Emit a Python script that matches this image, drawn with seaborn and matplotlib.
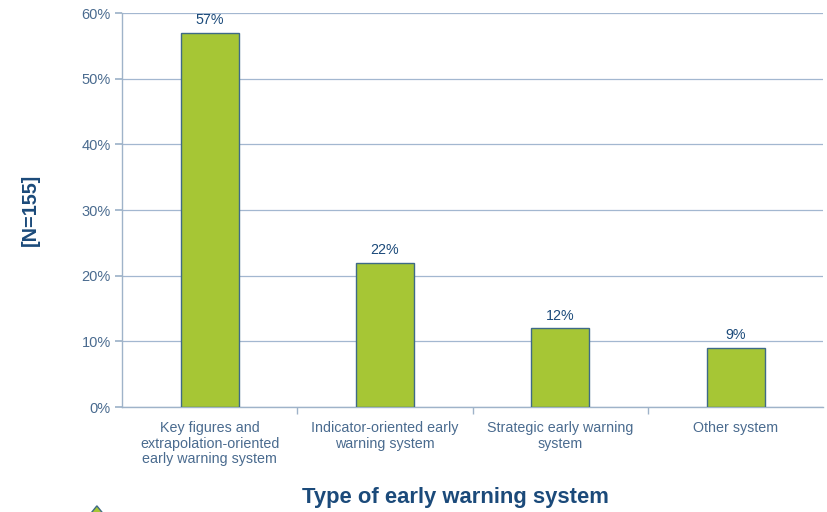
import matplotlib
matplotlib.use("Agg")
import matplotlib.pyplot as plt
import seaborn as sns
import pandas as pd
from matplotlib.patches import Polygon

categories = [
    "Key figures and\nextrapolation-oriented\nearly warning system",
    "Indicator-oriented early\nwarning system",
    "Strategic early warning\nsystem",
    "Other system",
]
shares = [57, 22, 12, 9]
y_ticks = [0, 10, 20, 30, 40, 50, 60]

df = pd.DataFrame({"system": categories, "share": shares})

sns.set_theme(style="white")
plt.rcParams["font.family"] = ["Liberation Sans", "DejaVu Sans"]

text_col = "#4A6B8F"
title_col = "#1B4A7A"
grid_col = "#A3B7D0"
spine_col = "#9FB3C9"

fig = plt.figure(figsize=(8.28, 5.12), dpi=100)
ax = fig.add_axes([0.1473, 0.205, 0.847, 0.7696])

sns.barplot(data=df, x="system", y="share", ax=ax, width=0.33,
            color="#A6C635", edgecolor="#3E6A87", linewidth=1.0,
            saturation=1, zorder=3)

ax.set_ylim(0, 60)
ax.set_xlim(-0.5, 3.5)
ax.set_yticks(y_ticks)
ax.set_yticklabels([f"{t}%" for t in y_ticks], color=text_col, fontsize=10.5)
ax.yaxis.grid(True, color=grid_col, linewidth=0.9, zorder=0)
ax.xaxis.grid(False)

for s in ["top", "right"]:
    ax.spines[s].set_visible(False)
for s in ["left", "bottom"]:
    ax.spines[s].set_color(spine_col)
    ax.spines[s].set_linewidth(1.0)

ax.tick_params(axis="y", length=5, color=spine_col, pad=3, left=True)
ax.set_xticks(range(len(categories)))
ax.set_xticklabels(categories, color=text_col, fontsize=10.3, linespacing=1.15)
ax.tick_params(axis="x", length=0, pad=10)
# separators between categories on the category axis
ax.set_xticks([0.5, 1.5, 2.5], minor=True)
ax.tick_params(axis="x", which="minor", length=5, color=spine_col, bottom=True)

for c in ax.containers:
    ax.bar_label(c, labels=[f"{v:.0f}%" for v in shares], padding=4,
                 color=title_col, fontsize=10.3)

ax.set_xlabel("Type of early warning system", fontsize=15.8, fontweight="bold",
              color=title_col)
ax.xaxis.set_label_coords(0.475, -0.203)
ax.set_ylabel("[N=155]", fontsize=14.3, fontweight="bold", color=title_col)
ax.yaxis.set_label_coords(-0.117, 0.5)

# small decorative arrow marker at the lower left
fig.patches.append(Polygon([[0.106, -0.01], [0.117, 0.012], [0.128, -0.01]],
                           closed=True, transform=fig.transFigure,
                           facecolor="#A6C635", edgecolor="#3E6A87", lw=1))

fig.savefig("out.png", dpi=100)
